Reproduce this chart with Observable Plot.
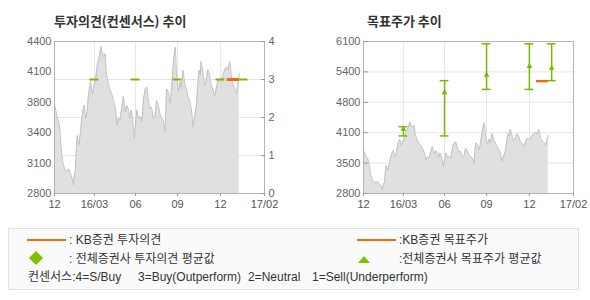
<!DOCTYPE html>
<html>
<head>
<meta charset="utf-8">
<script src="https://cdn.jsdelivr.net/npm/d3@7"></script>
<script src="https://cdn.jsdelivr.net/npm/@observablehq/plot@0.6"></script>
<style>
  html, body { margin: 0; padding: 0; background: #fff; }
  #wrap { position: relative; width: 590px; height: 300px; overflow: hidden; font-family: "Noto Sans CJK KR", sans-serif; }
  .title { position: absolute; top: 12px; font-size: 13px; font-weight: bold; color: #333; line-height: 17px; white-space: nowrap; }
  .chart { position: absolute; top: 0; }
  #legend { position: absolute; left: 8px; top: 228px; width: 571px; height: 62px; box-sizing: border-box; background: #fafafa; border: 1px solid #e2e2e2; }
  .lt { position: absolute; font-size: 12px; color: #333; line-height: 16px; white-space: pre; font-family: "Liberation Sans", "Noto Sans CJK KR", sans-serif; }
  .ll { position: absolute; height: 2px; background: #ee6c0c; }
</style>
</head>
<body>
<div id="wrap">
  <div class="title" style="left:54px">투자의견(컨센서스) 추이</div>
  <div class="title" style="left:367px">목표주가 추이</div>
  <div class="chart" id="left" style="left:0px"></div>
  <div class="chart" id="right" style="left:295px"></div>
  <div id="legend">
    <div class="ll" style="left:18px; top:10px; width:39px"></div>
    <div class="lt" style="left:60px; top:3px">: KB증권 투자의견</div>
    <div style="position:absolute; left:22px; top:24px; width:10px; height:10px; background:#80c000; transform:rotate(45deg)"></div>
    <div class="lt" style="left:60px; top:22px">: 전체증권사 투자의견 평균값</div>
    <div class="ll" style="left:348px; top:10px; width:39px"></div>
    <div class="lt" style="left:390px; top:3px">:KB증권 목표주가</div>
    <div style="position:absolute; left:349px; top:27px; width:0; height:0; border-left:6.5px solid transparent; border-right:6.5px solid transparent; border-bottom:7px solid #80c000"></div>
    <div class="lt" style="left:390px; top:22px">:전체증권사 목표주가 평균값</div>
    <div class="lt" style="left:19px; top:40px">컨센서스:4=S/Buy</div>
    <div class="lt" style="left:129px; top:40px">3=Buy(Outperform)</div>
    <div class="lt" style="left:239px; top:40px">2=Neutral</div>
    <div class="lt" style="left:303px; top:40px">1=Sell(Underperform)</div>
  </div>
</div>
<script>
// x positions in axis units (0 = "12", 5 = "17/02")
const xTickT = [0, 0.95, 1.93, 2.93, 3.95, 5];
const xTickLabels = ["12", "16/03", "06", "09", "12", "17/02"];

// Share price series
const priceT = [0.00,0.06,0.12,0.14,0.17,0.20,0.25,0.30,0.34,0.38,0.42,0.45,0.47,0.50,0.52,0.54,0.58,0.62,0.64,0.68,
  0.71,0.74,0.78,0.80,0.83,0.86,0.90,0.94,0.98,1.02,1.06,1.10,1.11,1.13,1.17,1.21,1.23,1.26,1.31,1.37,
  1.40,1.45,1.49,1.52,1.56,1.60,1.64,1.68,1.72,1.76,1.79,1.82,1.85,1.88,1.90,1.94,1.96,2.00,2.04,2.08,
  2.12,2.16,2.20,2.24,2.27,2.31,2.35,2.39,2.43,2.47,2.51,2.55,2.59,2.63,2.67,2.71,2.75,2.77,2.80,2.83,
  2.87,2.88,2.90,2.95,2.99,3.02,3.06,3.10,3.14,3.18,3.22,3.26,3.30,3.34,3.38,3.41,3.44,3.47,3.49,3.52,
  3.55,3.57,3.61,3.65,3.69,3.73,3.77,3.81,3.85,3.89,3.93,3.97,4.01,4.05,4.09,4.13,4.17,4.19,4.22,4.26,
  4.30,4.34,4.37,4.40];
const priceV = [3740,3610,3520,3380,3220,3120,3050,3030,3060,3010,2960,2890,2990,3050,3270,3410,3310,3450,3550,3680,
  3730,3590,3660,3800,3900,3980,3840,3940,4010,4150,4220,4330,4350,4290,4240,4270,4080,4010,3900,3840,
  3780,3700,3520,3590,3570,3700,3820,3660,3730,3680,3590,3680,3620,3480,3380,3590,3680,3590,3610,3560,
  3800,3900,3920,3770,3700,3710,3590,3610,3780,3730,3640,3590,3570,3450,3900,3870,3750,3820,3980,4170,
  4330,4340,4080,3870,3980,3900,4100,3960,3900,3820,3770,3680,3500,3620,3730,3940,4100,4050,4190,4120,
  4010,3940,3990,4100,4060,3940,3900,3820,3900,3990,3980,3990,4050,4100,4130,4100,4190,4130,3990,3940,
  3900,3850,3980,4060];

// Investment opinion (consensus, 4=S/Buy .. 1=Sell)
const consensusT = [0.95, 1.93, 2.93, 3.95, 4.50];
const consensusV = [3, 3, 3, 3, 3];
const kbOpinionStart = [4.11];
const kbOpinionEnd = [4.40];
const kbOpinionV = [3];

// Target price (all brokers): low, high, average
const targetT = [0.95, 1.93, 2.93, 3.95, 4.48];
const targetLow = [4050, 4050, 5060, 5060, 5250];
const targetHigh = [4250, 5250, 6050, 6050, 6050];
const targetAvg = [4200, 4990, 5370, 5560, 5520];
const kbTargetStart = [4.12];
const kbTargetEnd = [4.40];
const kbTargetV = [5240];

// Axis tick labels
const leftPriceLabels = ["2800", "3100", "3400", "3800", "4100", "4400"];
const opinionTicks = [0, 1, 2, 3, 4];
const rightPriceLabels = ["2800", "3500", "4100", "4800", "5400", "6100"];

const GREEN = "#78b800", ORANGE = "#ee6c0c", GRID = "#e6e6e6", FRAME = "#b4b4b4";

const price = priceT.map((t, i) => ({t, v: priceV[i]}));
const consensus = consensusT.map((t, i) => ({t, v: consensusV[i]}));
const kbOpinion = kbOpinionStart.map((t, i) => ({t1: t, t2: kbOpinionEnd[i], v: kbOpinionV[i]}));
const target = targetT.map((t, i) => ({t, lo: targetLow[i], hi: targetHigh[i], avg: targetAvg[i]}));
const kbTarget = kbTargetStart.map((t, i) => ({t1: t, t2: kbTargetEnd[i], v: kbTargetV[i]}));

// Left chart: opinion scale 0..4, price 2800..4400 mapped onto it
const pMin = 2800, pMax = 4400;
const toOp = v => (v - pMin) / (pMax - pMin) * 4;
const leftPos = leftPriceLabels.map((_, i) => i * 4 / (leftPriceLabels.length - 1));
const xFmt = d => xTickLabels[xTickT.indexOf(d)];
const style = {fontFamily: "'Liberation Sans', Arial, sans-serif", fontSize: "11px", color: "#666", background: "transparent", overflow: "visible"};
const HALF = 0.105;

const left = Plot.plot({
  width: 295, height: 215,
  marginLeft: 54, marginRight: 31, marginTop: 41, marginBottom: 22,
  style,
  x: {domain: [0, 5], label: null},
  y: {domain: [0, 4], label: null},
  marks: [
    Plot.gridX(xTickT, {stroke: GRID, strokeOpacity: 1}),
    Plot.gridY([1, 2, 3], {stroke: GRID, strokeOpacity: 1}),
    Plot.areaY(price, {x: "t", y: d => toOp(d.v), fill: "#e0e0e0"}),
    Plot.lineY(price, {x: "t", y: d => toOp(d.v), stroke: "#c2c2c2", strokeWidth: 1}),
    Plot.ruleY(consensus, {x1: d => d.t - HALF, x2: d => d.t + HALF, y: "v", stroke: GREEN, strokeWidth: 2}),
    Plot.ruleY(kbOpinion, {x1: "t1", x2: "t2", y: "v", stroke: ORANGE, strokeWidth: 3}),
    Plot.frame({stroke: FRAME}),
    Plot.axisX(xTickT, {tickFormat: xFmt, tickSize: 3, tickPadding: 4, stroke: "#999", fill: "#555"}),
    Plot.axisY(leftPos, {anchor: "left", tickSize: 0, tickPadding: 3, tickFormat: d => leftPriceLabels[leftPos.indexOf(d)], fill: "#666"}),
    Plot.axisY(opinionTicks, {anchor: "right", tickSize: 4, insetRight: 4, tickPadding: 4, stroke: "#999", fill: "#666"})
  ]
});
document.getElementById("left").appendChild(left);

const rMin = 2800, rMax = 6100;
const rightPos = rightPriceLabels.map((_, i) => rMin + i * (rMax - rMin) / (rightPriceLabels.length - 1));

const right = Plot.plot({
  width: 295, height: 215,
  marginLeft: 68, marginRight: 17, marginTop: 41, marginBottom: 22,
  style,
  x: {domain: [0, 5], label: null},
  y: {domain: [rMin, rMax], label: null},
  marks: [
    Plot.gridX(xTickT, {stroke: GRID, strokeOpacity: 1}),
    Plot.gridY(rightPos, {stroke: GRID, strokeOpacity: 1}),
    Plot.areaY(price, {x: "t", y1: rMin, y2: "v", fill: "#e0e0e0"}),
    Plot.lineY(price, {x: "t", y: "v", stroke: "#c2c2c2", strokeWidth: 1}),
    Plot.ruleX(target, {x: "t", y1: "lo", y2: "hi", stroke: GREEN, strokeWidth: 1.5}),
    Plot.ruleY(target, {x1: d => d.t - HALF, x2: d => d.t + HALF, y: "lo", stroke: GREEN, strokeWidth: 1.5}),
    Plot.ruleY(target, {x1: d => d.t - HALF, x2: d => d.t + HALF, y: "hi", stroke: GREEN, strokeWidth: 1.5}),
    Plot.dot(target, {x: "t", y: "avg", symbol: "triangle", r: 2.1, fill: GREEN, stroke: "none"}),
    Plot.ruleY(kbTarget, {x1: "t1", x2: "t2", y: "v", stroke: ORANGE, strokeWidth: 2.5}),
    Plot.frame({stroke: FRAME}),
    Plot.axisX(xTickT, {tickFormat: xFmt, tickSize: 3, tickPadding: 4, stroke: "#999", fill: "#555"}),
    Plot.axisY(rightPos, {anchor: "left", tickSize: 5, insetLeft: 5, tickPadding: 3, stroke: "#999", fill: "#666", tickFormat: d => rightPriceLabels[rightPos.indexOf(d)]})
  ]
});
document.getElementById("right").appendChild(right);
</script>
</body>
</html>
